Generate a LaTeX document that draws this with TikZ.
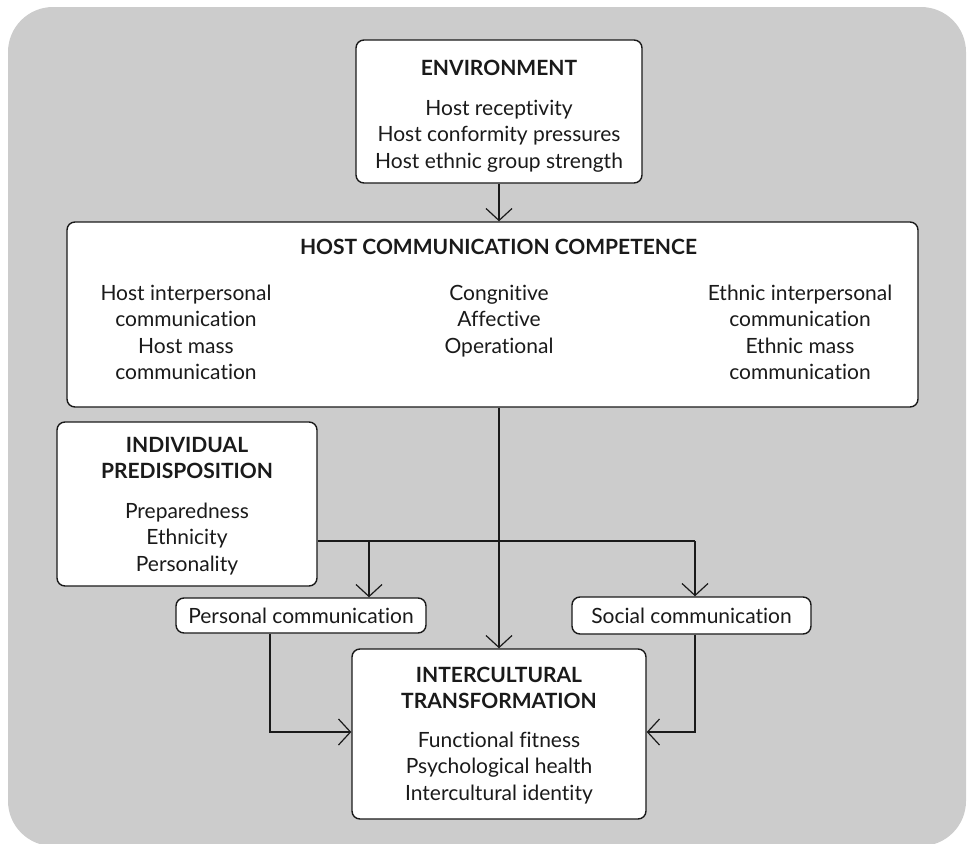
\documentclass[tikz,border=0pt]{standalone}
\usepackage{fontspec}
\setmainfont{Lato}[Ligatures={NoCommon,NoContextual}]
\usetikzlibrary{arrows.meta}
\definecolor{panel}{HTML}{CCCCCC}
\definecolor{ink}{HTML}{1A1A1A}
\tikzset{
  framebox/.style={draw=ink, line width=1.4pt, fill=white, rounded corners=8pt, inner sep=0pt},
  bodytext/.style={font=\fontsize{21}{26}\selectfont, text=ink, inner sep=0pt, anchor=base},
  headtext/.style={bodytext, font=\fontsize{21}{26}\selectfont\bfseries},
  link/.style={draw=ink, line width=1.2pt},
  arr/.style={link, -{Straight Barb[length=12pt,width=26pt]}}
}
% a column of centred lines: name, style, x, first baseline, lines
\newcommand\txtlines[5]{%
  \foreach \t [count=\i] in {#5}{%
    \node[#2] (#1-\i) at ({#3},{#4+26.6*(\i-1)}) {\t};}}
\begin{document}
\begin{tikzpicture}[x=1pt,y=-1pt]
\useasboundingbox (0,0) rectangle (970,844);
\fill[panel, rounded corners=45pt] (8,7) rectangle (966,846);

% boxes
\node[framebox, minimum width=286pt, minimum height=143pt] (env) at (499,111.5) {};
\node[framebox, minimum width=851pt, minimum height=185pt] (hcc) at (492.5,314.5) {};
\node[framebox, minimum width=260pt, minimum height=164pt] (ind) at (187,504) {};
\node[framebox, minimum width=250pt, minimum height=35pt] (pers) at (301,615.5) {};
\node[framebox, minimum width=239pt, minimum height=37pt] (soc) at (691.5,615.5) {};
\node[framebox, minimum width=294pt, minimum height=170pt] (itr) at (499,734) {};

% texts
\node[headtext] (env-t) at (499,75) {ENVIRONMENT};
\txtlines{env}{bodytext}{499}{115}{Host receptivity, Host conformity pressures, Host ethnic group strength}

\node[headtext] (hcc-t) at (498.5,254) {HOST COMMUNICATION COMPETENCE};
\txtlines{hccl}{bodytext}{186}{300}{Host interpersonal, communication, Host mass, communication}
\txtlines{hccm}{bodytext}{499}{300}{Congnitive, Affective, Operational}
\txtlines{hccr}{bodytext}{800}{300}{Ethnic interpersonal, communication, Ethnic mass, communication}

\txtlines{indt}{headtext}{187}{452}{INDIVIDUAL, PREDISPOSITION}
\txtlines{ind}{bodytext}{187}{518}{Preparedness, Ethnicity, Personality}

\node[bodytext] (pers-t) at (301,623) {Personal communication};
\node[bodytext] (soc-t) at (691.5,623) {Social communication};

\txtlines{itrt}{headtext}{499}{682}{INTERCULTURAL, TRANSFORMATION}
\txtlines{itr}{bodytext}{499}{747}{Functional fitness, Psychological health, Intercultural identity}

% junction points of the connectors
\coordinate (busP) at (369,541);
\coordinate (busR) at (695,541);
\coordinate (pb) at (270,732);
\coordinate (sb) at (695,732);

% connectors
\draw[arr] (env.south) -- (env.south |- hcc.north);
\draw[arr] (hcc.south -| itr.north) -- (itr.north);
\draw[link] (ind.east |- busR) -- (busR);
\draw[arr] (busP) -- (busP |- pers.north);
\draw[arr] (busR) -- (busR |- soc.north);
\draw[arr] (pers.south -| pb) -- (pb) -- (pb -| itr.west);
\draw[arr] (soc.south -| sb) -- (sb) -- (sb -| itr.east);
\end{tikzpicture}
\end{document}
